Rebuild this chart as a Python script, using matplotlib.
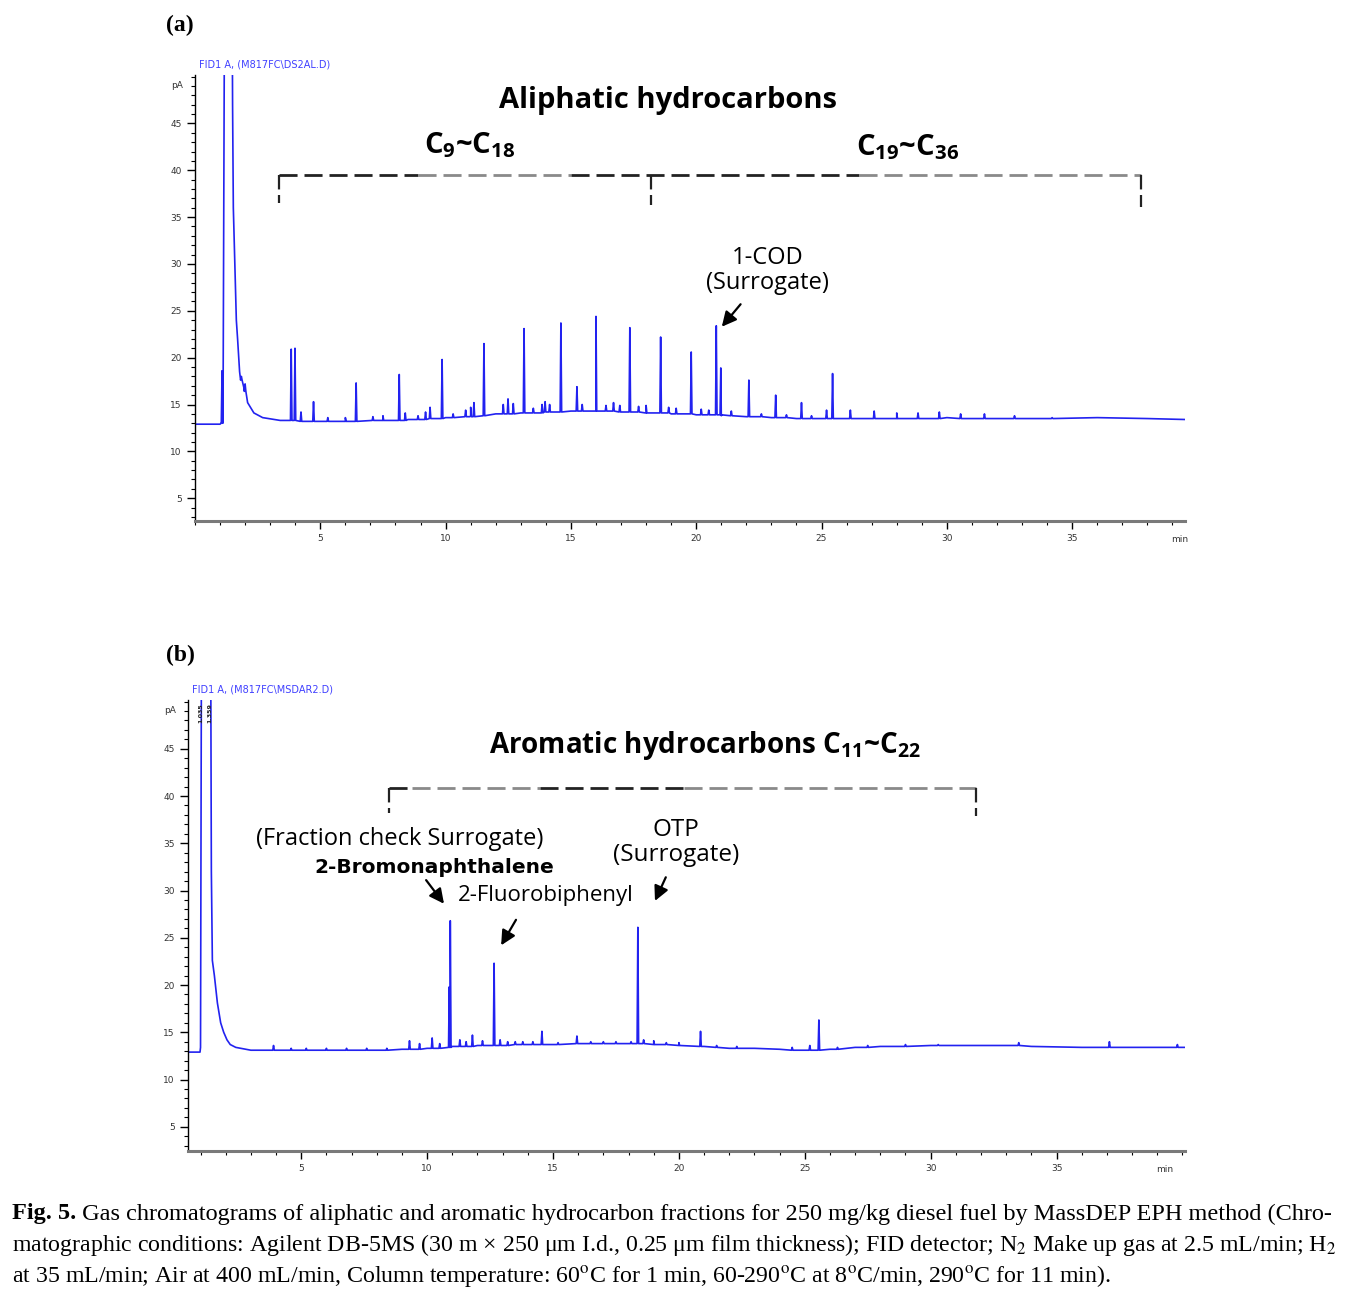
import numpy as np
import matplotlib
matplotlib.use("Agg")
import matplotlib.pyplot as plt
from matplotlib.ticker import MultipleLocator

# ---------------------------------------------------
# DATA
# ---------------------------------------------------
# (a) aliphatic fraction: baseline anchors incl. solvent front (min, pA)
ali_base_t = [0.0, 1.00, 1.04, 1.12, 1.18, 1.30, 1.48, 1.50, 1.53, 1.56, 1.60, 1.65,
              1.70, 1.78, 1.95, 2.10, 2.35, 2.70, 3.40, 4.50, 6.0, 7.5, 8.5, 10.0,
              11.0, 12.0, 13.0, 14.0, 15.0, 16.0, 17.0, 18.0, 19.0, 20.0, 21.0,
              22.0, 23.0, 24.0, 26.0, 28.0, 30.0, 32.0, 34.0, 36.0, 38.0, 39.5]
ali_base_y = [12.9, 12.9, 13.0, 14.5, 60.0, 60.0, 60.0, 47.0, 36.0, 33.0, 29.0, 24.0,
              22.0, 18.5, 16.8, 15.2, 14.1, 13.6, 13.3, 13.2, 13.2, 13.3, 13.4, 13.6,
              13.8, 14.0, 14.1, 14.2, 14.3, 14.3, 14.2, 14.1, 14.0, 13.9, 13.8,
              13.7, 13.6, 13.5, 13.5, 13.5, 13.6, 13.5, 13.5, 13.6, 13.5, 13.4]

ali_peak_t = [1.08, 1.85, 2.00, 3.84, 3.99, 4.23, 4.73, 5.3, 6.0, 6.43, 7.1, 7.5,
              8.15, 8.39, 8.9, 9.2, 9.38, 9.86, 10.3, 10.8, 11.0, 11.13, 11.53,
              12.3, 12.49, 12.7, 13.13, 13.5, 13.85, 13.97, 14.15, 14.6, 15.24,
              15.45, 16.0, 16.4, 16.7, 16.95, 17.35, 17.7, 18.0, 18.58, 18.9, 19.2,
              19.8, 20.2, 20.5, 20.8, 20.98, 21.4, 22.1, 22.6, 23.17, 23.6, 24.2,
              24.6, 25.2, 25.44, 26.15, 27.1, 28.0, 28.85, 29.7, 30.55, 31.5, 32.7,
              34.2]
ali_peak_foot = [13.0, 17.6, 16.4, 13.3, 13.3, 13.2, 13.2, 13.2, 13.2, 13.2, 13.3, 13.3,
                 13.3, 13.3, 13.4, 13.4, 13.5, 13.5, 13.6, 13.7, 13.7, 13.7, 13.8,
                 14.0, 14.0, 14.0, 14.1, 14.1, 14.1, 14.2, 14.2, 14.2, 14.3,
                 14.3, 14.3, 14.3, 14.3, 14.2, 14.2, 14.2, 14.1, 14.1, 14.1, 14.0,
                 14.0, 13.9, 13.9, 13.9, 13.9, 13.8, 13.7, 13.7, 13.6, 13.6, 13.5,
                 13.5, 13.5, 13.5, 13.5, 13.5, 13.5, 13.5, 13.5, 13.5, 13.5, 13.5,
                 13.5]
ali_peak_top = [18.6, 18.0, 17.2, 20.9, 21.0, 14.2, 15.3, 13.6, 13.6, 17.3, 13.7, 13.8,
                18.2, 14.1, 13.8, 14.2, 14.7, 19.8, 14.0, 14.4, 14.7, 15.2, 21.5,
                15.0, 15.6, 15.1, 23.1, 14.6, 15.0, 15.3, 15.0, 23.7, 16.9,
                15.0, 24.4, 14.9, 15.2, 14.9, 23.2, 14.8, 14.9, 22.2, 14.7, 14.6,
                20.6, 14.5, 14.4, 23.4, 18.9, 14.3, 17.6, 14.0, 16.0, 13.9, 15.2,
                13.8, 14.4, 18.3, 14.4, 14.3, 14.1, 14.1, 14.2, 14.0, 14.0, 13.8,
                13.6]

# (b) aromatic fraction
aro_base_t = [0.5, 0.98, 1.00, 1.04, 1.40, 1.43, 1.47, 1.55, 1.67, 1.80, 1.92, 2.05,
              2.18, 2.40, 2.60, 3.0, 5.0, 7.0, 9.0, 10.0, 11.0, 12.0, 14.0, 16.0,
              18.0, 19.0, 20.0, 21.0, 22.0, 23.0, 24.0, 25.0, 26.0, 27.0, 28.0,
              30.0, 32.0, 34.0, 36.0, 38.0, 40.1]
aro_base_y = [12.9, 12.9, 13.4, 60.0, 60.0, 32.0, 22.6, 21.0, 18.1, 16.0, 15.0, 14.2,
              13.7, 13.4, 13.3, 13.1, 13.1, 13.1, 13.2, 13.3, 13.5, 13.6, 13.7, 13.8,
              13.8, 13.7, 13.6, 13.5, 13.3, 13.3, 13.2, 13.1, 13.2, 13.4, 13.5,
              13.6, 13.6, 13.5, 13.4, 13.4, 13.4]

aro_peak_t = [3.9, 4.6, 5.2, 6.0, 6.8, 7.6, 8.4, 9.3, 9.7, 10.2, 10.5, 10.88, 10.92,
              11.3, 11.55, 11.8, 12.2, 12.66, 12.9, 13.2, 13.5, 13.8, 14.2, 14.56,
              15.2, 15.95, 16.5, 17.0, 17.5, 18.1, 18.37, 18.6, 19.0, 19.5, 20.0,
              20.86, 21.5, 22.3, 24.5, 25.2, 25.56, 26.3, 27.5, 29.0, 30.3, 33.5,
              37.1, 39.8]
aro_peak_foot = [13.1, 13.1, 13.1, 13.1, 13.1, 13.1, 13.1, 13.2, 13.2, 13.3, 13.3, 13.4, 13.4,
                 13.5, 13.5, 13.5, 13.6, 13.6, 13.6, 13.6, 13.7, 13.7, 13.7, 13.7,
                 13.7, 13.8, 13.8, 13.8, 13.8, 13.8, 13.8, 13.8, 13.7, 13.7, 13.6,
                 13.5, 13.4, 13.3, 13.1, 13.1, 13.1, 13.2, 13.4, 13.5, 13.6, 13.6,
                 13.4, 13.4]
aro_peak_top = [13.6, 13.3, 13.3, 13.3, 13.3, 13.3, 13.3, 14.1, 13.8, 14.4, 13.8, 19.8, 26.8,
                14.2, 14.0, 14.7, 14.1, 22.3, 14.2, 14.0, 14.0, 14.0, 14.0, 15.1,
                13.9, 14.6, 14.0, 14.0, 14.0, 14.0, 26.1, 14.2, 14.1, 13.9, 13.9,
                15.1, 13.6, 13.5, 13.4, 13.6, 16.3, 13.4, 13.6, 13.7, 13.7, 13.9,
                14.0, 13.7]

x_major = [5, 10, 15, 20, 25, 30, 35]
y_major = [5, 10, 15, 20, 25, 30, 35, 40, 45]

TRACE_COLOR = "#2222f0"
LABEL_FONT = "Open Sans"

plt.rcParams["mathtext.fontset"] = "custom"
plt.rcParams["mathtext.rm"] = "Open Sans:bold"
plt.rcParams["mathtext.it"] = "Open Sans:bold"
plt.rcParams["mathtext.bf"] = "Open Sans:bold"


def build_trace(bt, by, pt, pf, ph, w=0.03):
    t = list(bt)
    y = list(by)
    for a, f, h in zip(pt, pf, ph):
        t += [a - w, a, a + w]
        y += [f, h, f]
    order = np.argsort(t, kind="stable")
    return np.asarray(t)[order], np.asarray(y)[order]


def style_axes(ax, xlim, ylim, title):
    ax.set_xlim(*xlim)
    ax.set_ylim(*ylim)
    for s in ["top", "right"]:
        ax.spines[s].set_visible(False)
    ax.spines["left"].set_linewidth(1.0)
    ax.spines["bottom"].set_linewidth(2.2)
    ax.spines["bottom"].set_color("#7a7a7a")
    ax.set_xticks(x_major)
    ax.set_yticks(y_major)
    ax.xaxis.set_minor_locator(MultipleLocator(1))
    ax.yaxis.set_minor_locator(MultipleLocator(1))
    ax.tick_params(which="major", direction="out", length=6, width=1,
                   labelsize=6.5, labelcolor="#333333")
    ax.tick_params(which="minor", direction="out", length=3, width=0.8)
    ax.text(-0.012, 49.0, "pA", transform=ax.get_yaxis_transform(),
            ha="right", va="center", fontsize=6.5, color="#333333")
    ax.text(39.3, ylim[0] - 1.5, "min", ha="center", va="top",
            fontsize=6.5, color="#333333", clip_on=False)
    ax.text(0.004, 1.012, title, transform=ax.transAxes, ha="left",
            va="bottom", fontsize=7, color="#4040ff")


def dashed_bracket(ax, pieces, y, ticks):
    for x0, x1, c in pieces:
        ax.plot([x0, x1], [y, y], color=c, lw=2, dashes=(6.5, 2.5))
    for x, ybot in ticks:
        ax.plot([x, x], [y, ybot], color="#222222", lw=1.6, dashes=(6.5, 2.5))


def arrow(ax, start, end):
    ax.annotate("", xy=end, xytext=start,
                arrowprops=dict(arrowstyle="-|>", color="black", lw=1.6,
                                mutation_scale=22, shrinkA=0, shrinkB=0))


fig = plt.figure(figsize=(13.55, 12.92), dpi=100)

# ---------------------------------------------------
# (a) ALIPHATIC
# ---------------------------------------------------
ax1 = fig.add_axes([0.1439, 0.5967, 0.7306, 0.3452])
t, y = build_trace(ali_base_t, ali_base_y, ali_peak_t, ali_peak_foot, ali_peak_top)
ax1.plot(t, y, color=TRACE_COLOR, lw=1.2)
style_axes(ax1, (0, 39.5), (2.56, 50.16), r"FID1 A, (M817FC\DS2AL.D)")

ax1.text(18.86, 47.4, "Aliphatic hydrocarbons", ha="center", va="center",
         fontsize=21, fontweight="bold", family=LABEL_FONT)
ax1.text(10.98, 42.7, r"C$_{9}$~C$_{18}$", ha="center", va="center",
         fontsize=21, fontweight="bold", family=LABEL_FONT)
ax1.text(28.43, 42.4, r"C$_{19}$~C$_{36}$", ha="center", va="center",
         fontsize=21, fontweight="bold", family=LABEL_FONT)
dashed_bracket(ax1,
               [(3.37, 8.9, "#222222"), (8.9, 15.0, "#8a8a8a"),
                (15.0, 26.5, "#222222"), (26.5, 37.75, "#8a8a8a")],
               39.5, [(3.37, 36.5), (18.19, 36.3), (37.75, 36.1)])
ax1.text(22.85, 29.3, "1-COD\n(Surrogate)", ha="center", va="center",
         fontsize=17, family=LABEL_FONT, linespacing=1.05)
arrow(ax1, (21.77, 25.7), (21.02, 23.3))

fig.text(180 / 1355, 1 - 25 / 1292, "(a)", ha="center", va="center",
         fontsize=17, fontweight="bold", family="Liberation Serif")

# ---------------------------------------------------
# (b) AROMATIC
# ---------------------------------------------------
ax2 = fig.add_axes([0.1387, 0.1091, 0.7358, 0.3491])
t, y = build_trace(aro_base_t, aro_base_y, aro_peak_t, aro_peak_foot, aro_peak_top)
ax2.plot(t, y, color=TRACE_COLOR, lw=1.2)
style_axes(ax2, (0.5, 40.1), (2.43, 50.16), r"FID1 A, (M817FC\MSDAR2.D)")

# tiny retention-time labels on the solvent peaks
for rt, lab in [(1.03, "1.035"), (1.38, "1.359")]:
    ax2.text(rt, 49.8, lab, rotation=90, ha="center", va="top", fontsize=4.5,
             color="#222222", fontweight="bold")

ax2.text(21.03, 45.3, r"Aromatic hydrocarbons C$_{11}$~C$_{22}$", ha="center",
         va="center", fontsize=20, fontweight="bold", family=LABEL_FONT)
dashed_bracket(ax2,
               [(8.49, 9.4, "#222222"), (9.4, 14.5, "#8a8a8a"),
                (14.5, 20.2, "#222222"), (20.2, 31.8, "#8a8a8a")],
               40.9, [(8.49, 38.2), (31.8, 37.9)])
ax2.text(8.93, 35.4, "(Fraction check Surrogate)", ha="center", va="center",
         fontsize=17, family=LABEL_FONT)
ax2.text(10.28, 32.4, "2-Bromonaphthalene", ha="center", va="center",
         fontsize=14.5, fontweight="bold", family="DejaVu Sans")
ax2.text(14.72, 29.5, "2-Fluorobiphenyl", ha="center", va="center",
         fontsize=16, family=LABEL_FONT)
ax2.text(19.88, 35.1, "OTP\n(Surrogate)", ha="center", va="center",
         fontsize=17.5, family=LABEL_FONT, linespacing=1.05)
arrow(ax2, (9.96, 31.1), (10.67, 28.6))
arrow(ax2, (13.53, 26.9), (12.94, 24.2))
arrow(ax2, (19.48, 31.4), (19.05, 28.9))

fig.text(180 / 1355, 1 - 655 / 1292, "(b)", ha="center", va="center",
         fontsize=17, fontweight="bold", family="Liberation Serif")

# ---------------------------------------------------
# CAPTION
# ---------------------------------------------------
cap_kw = dict(fontsize=17.5, family="Liberation Serif", math_fontfamily="stix")
head = fig.text(12 / 1355, 1 - 1214 / 1292, "Fig. 5.", ha="left", va="center",
                fontweight="bold", **cap_kw)
fig.add_artist(plt.Annotation(
    " Gas chromatograms of aliphatic and aromatic hydrocarbon fractions "
    "for 250 mg/kg diesel fuel by MassDEP EPH method (Chro-",
    xy=(1, 0.5), xycoords=head, ha="left", va="center", **cap_kw))
fig.text(12 / 1355, 1 - 1245 / 1292,
         "matographic conditions: Agilent DB-5MS (30 m \u00d7 250 \u03bcm I.d., "
         "0.25 \u03bcm film thickness); FID detector; N$_2$ Make up gas at "
         "2.5 mL/min; H$_2$", ha="left", va="center",
         **dict(cap_kw, fontsize=17.2))
fig.text(12 / 1355, 1 - 1276 / 1292,
         r"at 35 mL/min; Air at 400 mL/min, Column temperature: 60$^{\rm o}$C "
         r"for 1 min, 60-290$^{\rm o}$C at 8$^{\rm o}$C/min, 290$^{\rm o}$C "
         r"for 11 min).", ha="left", va="center", **dict(cap_kw, fontsize=17.2))

fig.savefig("out.png", dpi=100)
